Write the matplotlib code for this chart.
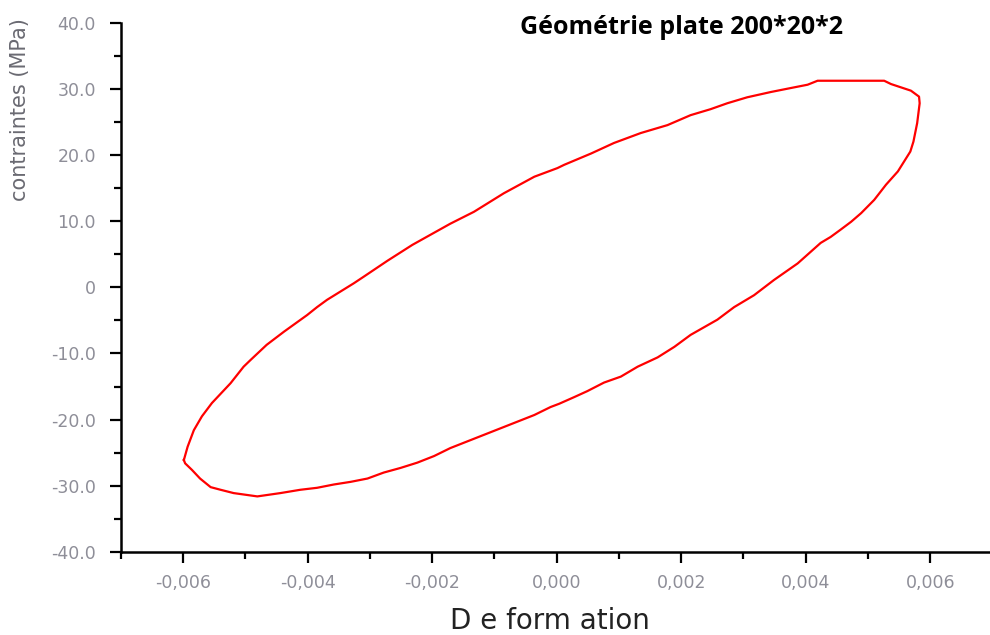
import matplotlib
matplotlib.use("Agg")
import matplotlib.pyplot as plt
from matplotlib.ticker import MultipleLocator, FixedLocator

# Hysteresis loop: strain (deformation) vs stress (contraintes, MPa)
deformation = [
    -0.00599, -0.00593, -0.00583, -0.00570, -0.00554, -0.00524, -0.00503, -0.00492,
    -0.00466, -0.00438, -0.00401, -0.00385, -0.00369, -0.00326, -0.00310, -0.00272,
    -0.00232, -0.00171, -0.00133, -0.00085, -0.00036, 0.00001, 0.00012, 0.00055,
    0.00092, 0.00135, 0.00178, 0.00215, 0.00247, 0.00274, 0.00306, 0.00344,
    0.00376, 0.00403, 0.00419, 0.00526, 0.00537, 0.00569, 0.00582, 0.00583,
    0.00579, 0.00573, 0.00568, 0.00558, 0.00548, 0.00529, 0.00510, 0.00489,
    0.00473, 0.00456, 0.00440, 0.00424, 0.00387, 0.00349, 0.00317, 0.00285,
    0.00258, 0.00215, 0.00189, 0.00162, 0.00130, 0.00103, 0.00076, 0.00049,
    0.00028, 0.00004, -0.00010, -0.00036, -0.00063, -0.00090, -0.00117, -0.00144,
    -0.00171, -0.00197, -0.00224, -0.00251, -0.00278, -0.00304, -0.00331, -0.00358,
    -0.00385, -0.00412, -0.00444, -0.00481, -0.00519, -0.00540, -0.00556, -0.00573,
    -0.00586, -0.00597, -0.00599,
]
contraintes = [
    -26.1, -24.1, -21.6, -19.5, -17.5, -14.5, -12.0, -11.0,
    -8.7, -6.7, -4.2, -3.0, -1.9, 0.6, 1.6, 4.0,
    6.4, 9.6, 11.4, 14.2, 16.7, 18.0, 18.5, 20.2,
    21.8, 23.3, 24.5, 26.0, 26.9, 27.8, 28.7, 29.5,
    30.1, 30.6, 31.2, 31.2, 30.7, 29.7, 28.8, 27.8,
    24.8, 22.0, 20.5, 19.0, 17.5, 15.5, 13.2, 11.2,
    9.9, 8.7, 7.6, 6.7, 3.6, 1.1, -1.2, -3.0,
    -4.9, -7.2, -9.0, -10.6, -12.0, -13.5, -14.4, -15.7,
    -16.6, -17.6, -18.1, -19.3, -20.3, -21.3, -22.3, -23.3,
    -24.3, -25.5, -26.5, -27.3, -28.0, -28.9, -29.4, -29.8,
    -30.3, -30.6, -31.1, -31.6, -31.1, -30.6, -30.2, -28.9,
    -27.6, -26.6, -26.1,
]

x_ticks = [-0.006, -0.004, -0.002, 0.000, 0.002, 0.004, 0.006]
x_tick_labels = ["-0,006", "-0,004", "-0,002", "0,000", "0,002", "0,004", "0,006"]
y_ticks = [-40, -30, -20, -10, 0, 10, 20, 30, 40]
y_tick_labels = ["-40.0", "-30.0", "-20.0", "-10.0", "0", "10.0", "20.0", "30.0", "40.0"]

W, H = 990, 635
fig = plt.figure(figsize=(W / 100, H / 100), dpi=100)
left_px, right_px, top_px, bottom_px = 121, 990, 22.5, 552
ax = fig.add_axes([left_px / W, 1 - bottom_px / H,
                   (right_px - left_px) / W, (bottom_px - top_px) / H])

ax.plot(deformation, contraintes, color="#ff0000", lw=1.6)

ax.set_xlim(-0.007, 0.00696)
ax.set_ylim(-40, 40)

ax.spines["top"].set_visible(False)
ax.spines["right"].set_visible(False)
for s in ("left", "bottom"):
    ax.spines[s].set_linewidth(1.8)
    ax.spines[s].set_color("black")

ax.xaxis.set_major_locator(FixedLocator(x_ticks))
ax.set_xticklabels(x_tick_labels)
ax.xaxis.set_minor_locator(MultipleLocator(0.001))
ax.yaxis.set_major_locator(FixedLocator(y_ticks))
ax.set_yticklabels(y_tick_labels)
ax.yaxis.set_minor_locator(MultipleLocator(5))

ax.tick_params(axis="both", which="major", direction="out", length=8, width=1.6,
               color="black", labelcolor="#8e8e98", labelsize=12.5)
ax.tick_params(axis="both", which="minor", direction="out", length=5, width=1.6,
               color="black")
ax.tick_params(axis="x", which="major", pad=8)
ax.tick_params(axis="y", which="major", pad=10)

fig.text(550 / W, 1 - 621 / H, "D e form ation", ha="center", va="center",
         fontsize=20, color="#222222")
fig.text(20 / W, 1 - 110 / H, "contraintes (MPa)", rotation=90, ha="center",
         va="center", fontsize=15, color="#6a6a72")
fig.text(682 / W, 1 - 27 / H, "Géométrie plate 200*20*2", ha="center", va="center",
         fontsize=18, fontweight="bold", family="Open Sans", color="black")

fig.savefig("out.png", dpi=100, facecolor="white")
